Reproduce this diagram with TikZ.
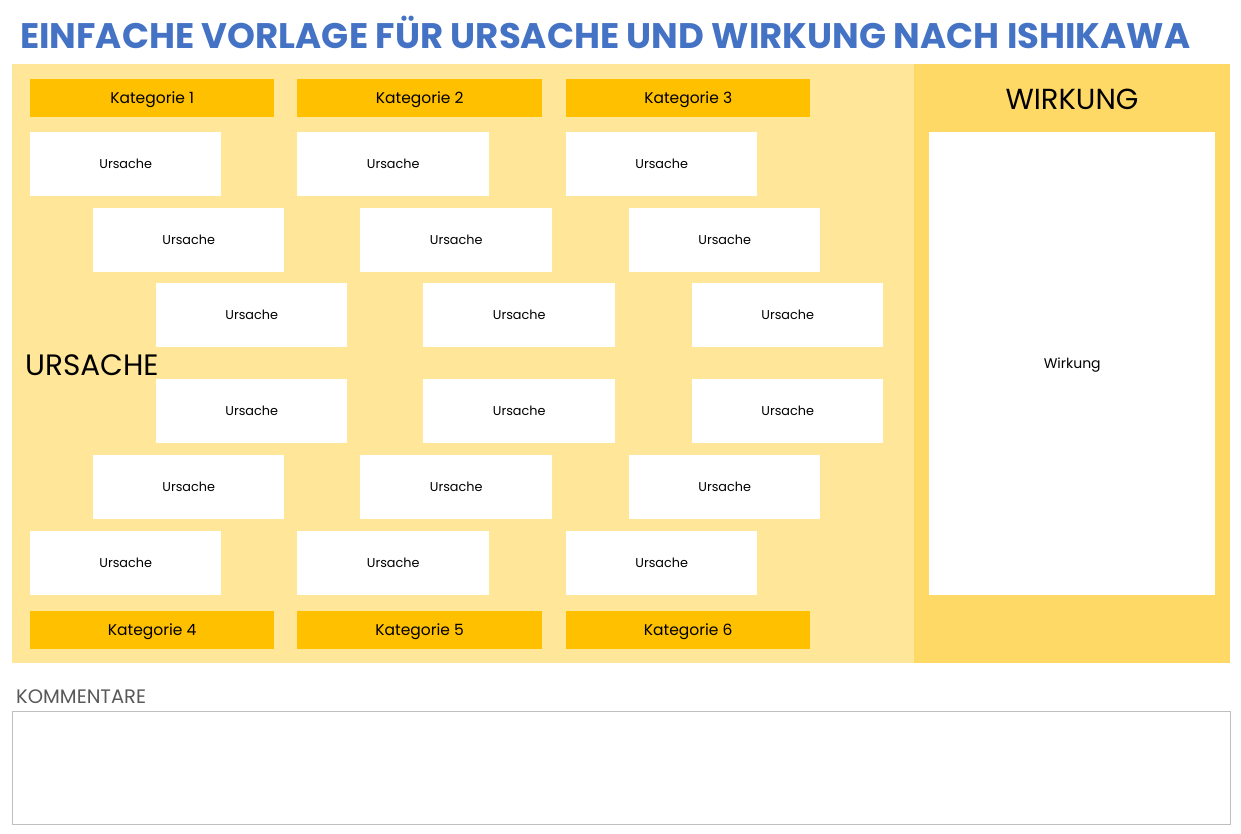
\documentclass[tikz,border=0pt]{standalone}
\usepackage{fontspec}
\setmainfont{Poppins}
\definecolor{lightyel}{HTML}{FFE699}
\definecolor{midyel}{HTML}{FFD966}
\definecolor{catyel}{HTML}{FFC000}
\definecolor{titleblue}{HTML}{4472C4}
\definecolor{commgray}{HTML}{595959}
\definecolor{boxgray}{HTML}{BFBFBF}
\begin{document}
\begin{tikzpicture}[x=1pt,y=-1pt,
  cat/.style={fill=catyel,minimum width=244pt,minimum height=38pt,inner sep=0pt,text height=12.6pt,text depth=2pt,font=\fontsize{15.5}{15.5}\selectfont,anchor=north west},
  cause/.style={fill=white,minimum width=191pt,minimum height=64pt,inner sep=0pt,text height=10.2pt,text depth=1.2pt,font=\fontsize{12.8}{12.8}\selectfont,anchor=north west},
  panel/.style={inner sep=0pt,anchor=north west}]
\useasboundingbox (0,0) rectangle (1241,834);
\fill[white] (0,0) rectangle (1241,834);
% title
\node[anchor=west,inner sep=0pt,text=titleblue,font=\fontsize{35.5}{35.5}\selectfont\bfseries] (title) at (20,32) {EINFACHE VORLAGE FÜR URSACHE UND WIRKUNG NACH ISHIKAWA};
% panels
\node[panel,fill=lightyel,minimum width=902pt,minimum height=599pt] (main) at (12,64) {};
\node[panel,fill=midyel,minimum width=316pt,minimum height=599pt] (right) at (914,64) {};
\node[panel,fill=white,minimum width=286pt,minimum height=463pt,text height=11pt,text depth=1.2pt,font=\fontsize{14}{14}\selectfont] (wirkbox) at (929,132) {Wirkung};
\node[font=\fontsize{29}{29}\selectfont,inner sep=0pt] (wirkung) at (1072,99) {WIRKUNG};
\node[font=\fontsize{29.5}{29.5}\selectfont,inner sep=0pt,anchor=west] (ursache) at (25,365) {URSACHE};
% categories
\node[cat] (k1) at (30,79) {Kategorie 1};
\node[cat,minimum width=245pt] (k2) at (297,79) {Kategorie 2};
\node[cat] (k3) at (566,79) {Kategorie 3};
\node[cat] (k4) at (30,611) {Kategorie 4};
\node[cat,minimum width=245pt] (k5) at (297,611) {Kategorie 5};
\node[cat] (k6) at (566,611) {Kategorie 6};
% causes
\foreach \r/\y/\xo in {1/132/0,2/208/63,3/283/126,4/379/126,5/455/63,6/531/0}{
  \node[cause] (u\r a) at (30+\xo,\y) {Ursache};
  \node[cause,minimum width=192pt] (u\r b) at (297+\xo,\y) {Ursache};
  \node[cause] (u\r c) at (566+\xo,\y) {Ursache};
}
% comments
\node[anchor=west,inner sep=0pt,text=commgray,font=\fontsize{19.5}{19.5}\selectfont] (komm) at (16,697) {KOMMENTARE};
\node[panel,draw=boxgray,line width=1.3pt,minimum width=1218pt,minimum height=113pt] (commbox) at (12,711) {};
\end{tikzpicture}
\end{document}
